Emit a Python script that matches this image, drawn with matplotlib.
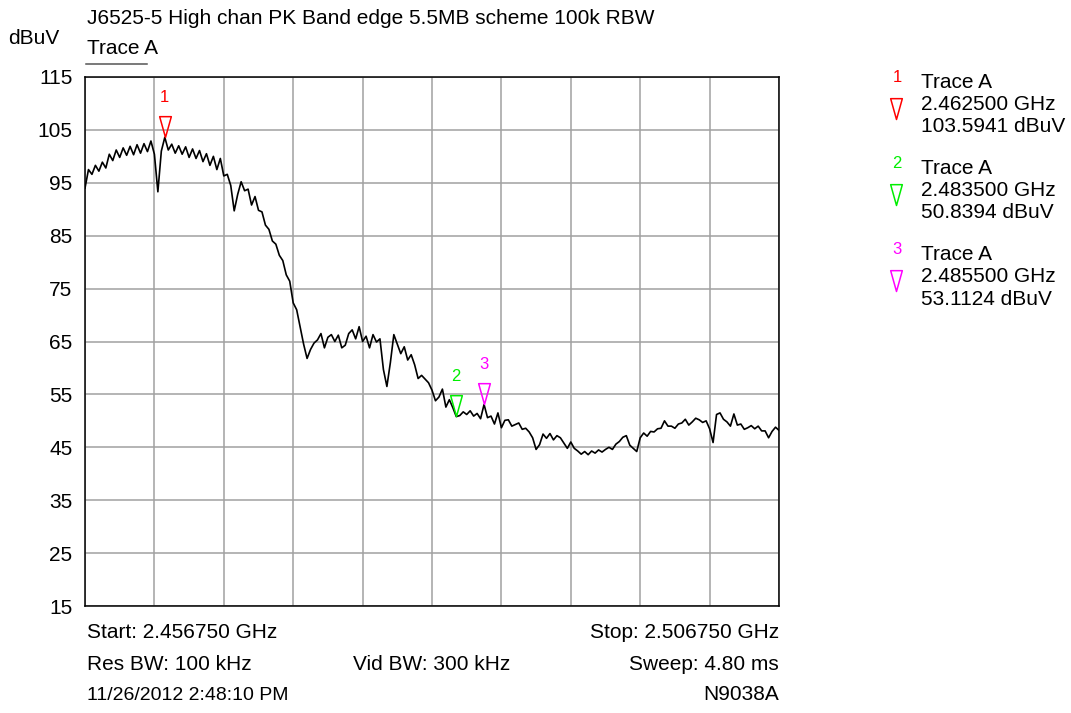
"""Spectrum analyzer band-edge plot (N9038A screenshot style)."""
import matplotlib
matplotlib.use("Agg")
import matplotlib.pyplot as plt             # noqa: E402
from matplotlib.path import Path            # noqa: E402
import numpy as np                          # noqa: E402

plt.rcParams["font.family"] = ["Liberation Sans", "DejaVu Sans"]

TITLE = "J6525-5 High chan PK Band edge 5.5MB scheme 100k RBW"
START_GHZ = 2.456750
STOP_GHZ = 2.506750
Y_TICKS = [15, 25, 35, 45, 55, 65, 75, 85, 95, 105, 115]

# trace A, one value per 0.25 MHz sweep point (201 points), dBuV
TRACE_A = [
    94.0, 97.5, 96.6, 98.3, 97.2, 98.9, 97.8, 100.4, 99.2, 101.2,
    99.8, 101.6, 100.2, 101.9, 100.3, 102.2, 100.6, 102.4, 100.9, 102.9,
    100.4, 93.3, 101.0, 103.6, 101.2, 102.3, 100.6, 102.0, 100.4, 101.8,
    99.8, 101.4, 99.6, 101.1, 99.0, 100.5, 98.3, 100.0, 97.5, 99.6,
    96.3, 96.6, 94.5, 89.7, 92.8, 95.2, 93.5, 93.8, 90.8, 92.4,
    89.8, 89.5, 87.0, 86.2, 84.0, 83.4, 81.3, 80.3, 77.6, 76.4,
    72.3, 71.0, 67.8, 64.5, 61.8, 63.5, 64.7, 65.3, 66.5, 63.8,
    65.8, 66.3, 65.0, 66.2, 63.8, 64.3, 66.5, 67.2, 65.5, 67.8,
    65.0, 66.0, 63.8, 66.3, 64.9, 65.5, 59.7, 56.5, 61.0, 66.3,
    64.5, 62.7, 64.0, 61.5, 62.5, 60.6, 58.0, 58.6, 57.9, 57.2,
    55.8, 53.8, 54.5, 56.0, 52.6, 54.0, 52.5, 50.8, 51.0, 51.7,
    51.2, 51.9, 50.9, 51.4, 50.4, 53.1, 50.6, 50.9, 49.4, 51.5,
    48.7, 50.1, 50.2, 49.0, 49.3, 49.6, 48.4, 48.6, 47.9, 46.8,
    44.6, 45.5, 47.5, 46.7, 47.6, 46.4, 47.2, 46.8, 45.8, 44.8,
    46.0, 44.8, 44.3, 43.7, 44.2, 43.6, 44.3, 43.9, 44.5, 44.1,
    44.6, 45.0, 44.6, 45.6, 46.1, 46.9, 47.2, 45.4, 44.8, 44.2,
    46.8, 47.7, 47.1, 48.0, 47.9, 48.5, 48.6, 50.0, 49.0, 49.0,
    48.6, 49.4, 49.6, 50.3, 49.2, 49.8, 50.5, 50.2, 49.7, 50.0,
    48.5, 45.9, 51.2, 51.5, 50.3, 49.8, 49.0, 51.3, 49.2, 49.4,
    48.4, 48.7, 49.1, 48.5, 49.0, 48.1, 48.1, 46.8, 48.0, 48.8,
    48.2,
]

MARKER_IDS = ["1", "2", "3"]
MARKER_GHZ = [2.462500, 2.483500, 2.485500]
MARKER_DBUV = [103.5941, 50.8394, 53.1124]
MARKER_COLORS = ["#ff0000", "#00ee00", "#ff00ff"]

FOOTER = [
    ("Start: 2.456750 GHz", "", "Stop: 2.506750 GHz"),
    ("Res BW: 100 kHz", "Vid BW: 300 kHz", "Sweep: 4.80 ms"),
    ("11/26/2012 2:48:10 PM", "", "N9038A"),
]

W, H = 1071, 713
FS = 15


def px(x, y):
    return x / W, 1 - y / H


# open down-pointing triangle with its tip at the data point
TRI = Path([(-0.28, 1.0), (0.28, 1.0), (0.0, 0.0), (-0.28, 1.0)],
           [Path.MOVETO, Path.LINETO, Path.LINETO, Path.CLOSEPOLY])

fig = plt.figure(figsize=(W / 100, H / 100), dpi=100)
ax = fig.add_axes([85 / W, 1 - 606 / H, (779 - 85) / W, (606 - 77) / H])

freq = np.linspace(START_GHZ, STOP_GHZ, len(TRACE_A))
ax.plot(freq, TRACE_A, color="black", lw=1.2, zorder=3)

for mid, f, v, c in zip(MARKER_IDS, MARKER_GHZ, MARKER_DBUV, MARKER_COLORS):
    ax.plot([f], [v], marker=TRI, ms=30, mfc="none", mec=c, mew=1.1, ls="none", zorder=4)
    ax.annotate(mid, (f, v), xytext=(0, 40), textcoords="offset pixels",
                ha="center", va="center", color=c, fontsize=12)

ax.set_xlim(START_GHZ, STOP_GHZ)
ax.set_ylim(15, 115)
ax.set_xticks(np.linspace(START_GHZ, STOP_GHZ, 11))
ax.set_xticklabels([])
ax.set_yticks(Y_TICKS)
ax.tick_params(length=0, labelsize=FS, pad=9)
ax.grid(True, color="#a0a0a0", lw=1.1)
for s in ax.spines.values():
    s.set_color("black")
    s.set_linewidth(1.1)

fig.text(*px(87, 18), TITLE, fontsize=FS, va="center", ha="left")
fig.text(*px(8, 39), "dBuV", fontsize=FS, va="center", ha="left")
fig.text(*px(87, 48), "Trace A", fontsize=FS, va="center", ha="left")
fig.add_artist(plt.Line2D([86 / W, 147 / W], [1 - 64 / H] * 2, color="#555555", lw=1.1))

for k, (left, mid, right) in enumerate(FOOTER):
    y = 633 + 31 * k
    fig.text(*px(87, y), left, fontsize=14 if k == 2 else FS, va="center", ha="left")
    if mid:
        fig.text(*px(432, y), mid, fontsize=FS, va="center", ha="center")
    fig.text(*px(779, y), right, fontsize=FS, va="center", ha="right")

# marker table on the right
for k, (mid, f, v, c) in enumerate(zip(MARKER_IDS, MARKER_GHZ, MARKER_DBUV, MARKER_COLORS)):
    y0 = 83 + 86 * k
    fig.text(*px(897, y0 - 6), mid, fontsize=12, color=c, va="center", ha="center")
    fig.add_artist(plt.Line2D([896 / W], [1 - (y0 + 36) / H], marker=TRI, ms=30,
                              mfc="none", mec=c, mew=1.1, ls="none"))
    fig.text(*px(921, y0), "Trace A", fontsize=FS, va="center", ha="left")
    fig.text(*px(921, y0 + 22), f"{f:.6f} GHz", fontsize=FS, va="center", ha="left")
    fig.text(*px(921, y0 + 44), f"{v:.4f} dBuV", fontsize=FS, va="center", ha="left")

fig.savefig("out.png", dpi=100)
